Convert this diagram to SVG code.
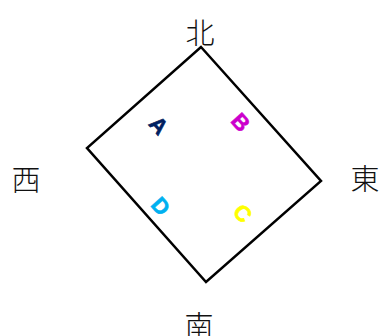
<svg xmlns="http://www.w3.org/2000/svg" width="386" height="336" viewBox="0 0 386 336">
<style>
.dir{font-family:"Noto Sans CJK JP","Noto Sans CJK SC",sans-serif;font-size:29px;fill:#111;text-anchor:middle;font-weight:300}
.let{font-family:"Liberation Sans",Arial,sans-serif;font-weight:bold;font-size:22px;text-anchor:middle;stroke-width:0.6}
</style>
<rect width="386" height="336" fill="#fff"/>
<g id="square">
<polygon points="201,47 321,181 206,282 87,148" fill="none" stroke="#000" stroke-width="2.5" stroke-linejoin="miter"/>
</g>
<g id="north"><text class="dir" x="200" y="44">北</text></g>
<g id="west"><text class="dir" x="26" y="191">西</text></g>
<g id="east"><text class="dir" x="365" y="190">東</text></g>
<g id="south"><text class="dir" x="199" y="337">南</text></g>
<g id="A" transform="translate(159,125) rotate(48)"><text class="let" x="0" y="8" fill="#002060" stroke="#002060">A</text></g>
<g id="B" transform="translate(241,122) rotate(48)"><text class="let" x="0" y="8" fill="#CC00CC" stroke="#CC00CC">B</text></g>
<g id="C" transform="translate(243,213) rotate(48)"><text class="let" x="0" y="8" fill="#FFFF00" stroke="#FFFF00">C</text></g>
<g id="D" transform="translate(161,206) rotate(48)"><text class="let" x="0" y="8" fill="#00B0F0" stroke="#00B0F0">D</text></g>
</svg>
